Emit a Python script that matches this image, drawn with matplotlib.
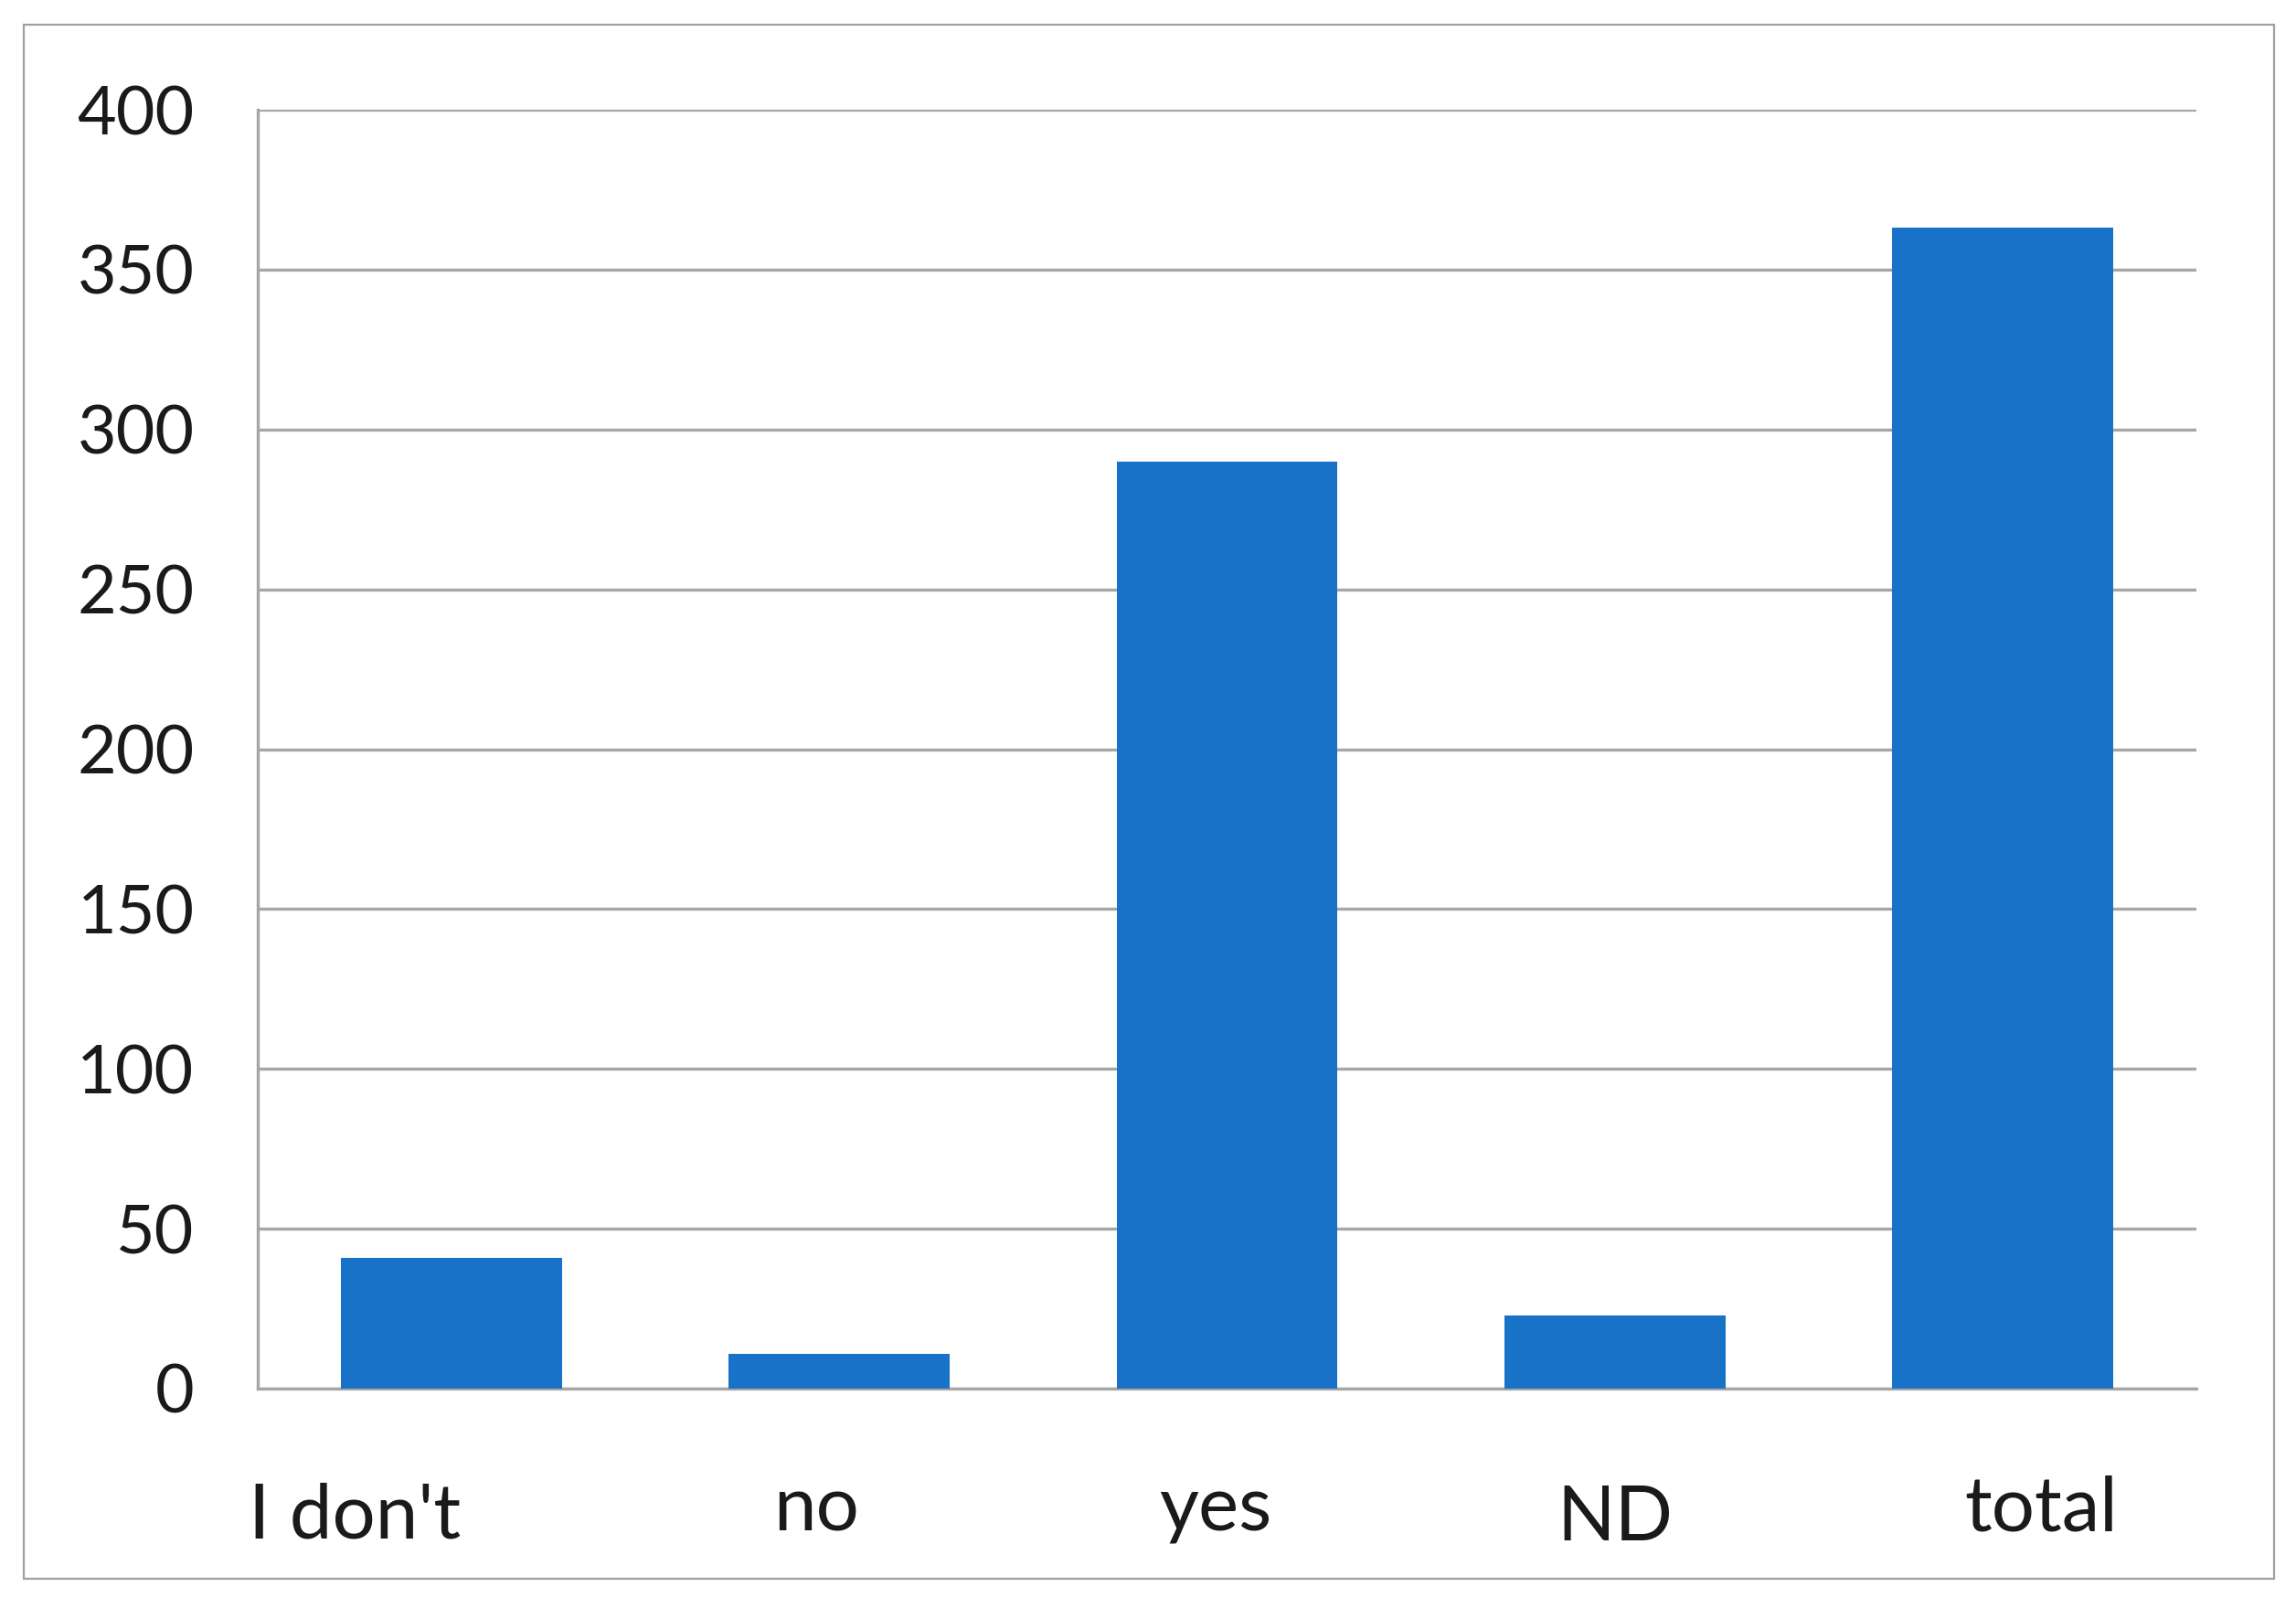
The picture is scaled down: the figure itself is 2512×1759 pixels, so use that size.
import matplotlib.pyplot as plt
from matplotlib.patches import Rectangle

categories = ["I don't", "no", "yes", "ND", "total"]
counts = [41, 11, 290, 23, 363]
y_ticks = [0, 50, 100, 150, 200, 250, 300, 350, 400]

# small shifts of the category labels, as in the original
label_dx = [-0.25, -0.06, -0.03, 0.0, 0.1]
label_dy = [-0.117, -0.111, -0.111, -0.119, -0.111]

W, H = 2512, 1759
bar_color = '#1872C8'
grid_color = '#A6A6A6'

plt.rcParams['font.family'] = ['Lato', 'DejaVu Sans']

fig = plt.figure(figsize=(W / 100, H / 100), dpi=100)

# outer frame around the whole chart
fig.patches.append(Rectangle((26 / W, 1 - 1727 / H), (2488 - 26) / W, (1727 - 27) / H,
                             transform=fig.transFigure, fill=False,
                             edgecolor='#A0A0A0', linewidth=1.6))

ax = fig.add_axes([282 / W, 1 - 1519 / H, (2403 - 282) / W, (1519 - 120) / H])

x = list(range(len(categories)))
ax.bar(x, counts, width=0.57, color=bar_color, zorder=3)

ax.set_xlim(-0.5, 4.5)
ax.set_ylim(0, 400)
ax.set_yticks(y_ticks)
ax.set_yticklabels([str(t) for t in y_ticks], fontsize=53, color='#1a1a1a')
ax.tick_params(axis='y', length=0, pad=50)
ax.set_xticks([])

ax.grid(axis='y', color=grid_color, linewidth=2.4, zorder=0)
for s in ['top', 'right']:
    ax.spines[s].set_visible(False)
ax.spines['left'].set_color(grid_color)
ax.spines['left'].set_linewidth(2.4)
ax.spines['bottom'].set_color(grid_color)
ax.spines['bottom'].set_linewidth(2.4)

for i, lab in enumerate(categories):
    ax.text(i + label_dx[i], label_dy[i], lab, transform=ax.get_xaxis_transform(),
            ha='center', va='baseline', fontsize=60, color='#1a1a1a')

fig.savefig('out.png', dpi=100, facecolor='white')
